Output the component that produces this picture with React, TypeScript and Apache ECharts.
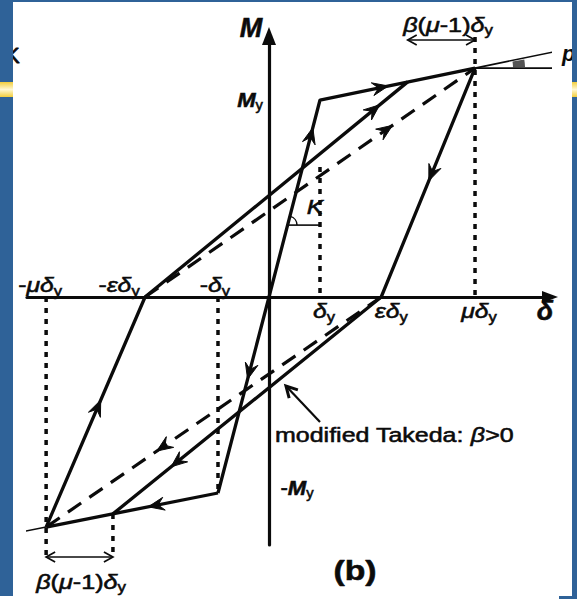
import React, { useEffect, useRef } from 'react';
import * as echarts from 'echarts';

const FONT = '"Liberation Sans", Arial, Helvetica, sans-serif';
const INK = '#0b0b0b';
const FRAME_BLUE = '#2f6298';

// δ is measured in units of δy, M in units of My
const deltaMin = -4.745;
const deltaMax = 5.51;
const momentMin = -1.259;
const momentMax = 1.325;

// characteristic points of the Takeda loop [δ/δy, M/My]
const origin = [0, 0];
const yieldPos = [1.0, 1.0];
const peakPos = [4.04, 1.162];
const residualPos = [2.2, 0];
const targetPos = [2.72, 1.092];
const yieldNeg = [-1.0, -0.995];
const peakNeg = [-4.37, -1.168];
const residualNeg = [-2.43, 0];
const targetNeg = [-3.06, -1.101];

// continuation of the post-yield branches and the horizontal reference
const tailPos = [5.65, 1.248];
const levelPos = [5.667, 1.162];
const tailNeg = [-4.92, -1.196];

const kLevel = 0.365;
const kFoot = [0.373, kLevel];

const spanTop = 1.305;
const spanBottom = -1.32;
const guideTop = 1.32;
const guideBottom = -1.32;
const yieldGuideTop = 0.66;

const solidPaths = [
  [yieldNeg, origin, yieldPos, peakPos],
  [peakPos, residualPos, targetNeg],
  [yieldNeg, peakNeg],
  [peakNeg, residualNeg, targetPos],
];

// original Takeda reloading straight to the previous peak
const dashedPaths = [
  [residualPos, peakNeg],
  [residualNeg, peakPos],
];

const thinPaths = [
  [peakPos, tailPos],
  [peakPos, levelPos],
  [peakNeg, tailNeg],
  [kFoot, [yieldPos[0], kLevel]],
];

const guidePaths = [
  [[peakNeg[0], 0], [peakNeg[0], guideBottom]],
  [targetNeg, [targetNeg[0], guideBottom]],
  [[yieldNeg[0], 0], yieldNeg],
  [[yieldPos[0], yieldGuideTop], [yieldPos[0], 0]],
  [[peakPos[0], guideTop], [peakPos[0], 0]],
];

// direction markers: segment start, segment end, position along it
const flowArrows = [
  [origin, yieldPos, 0.82],
  [origin, yieldNeg, 0.38],
  [yieldPos, peakPos, 0.39],
  [peakPos, residualPos, 0.46],
  [residualPos, targetNeg, 0.76],
  [residualPos, peakNeg, 0.65],
  [yieldNeg, peakNeg, 0.36],
  [peakNeg, residualNeg, 0.52],
  [residualNeg, targetPos, 0.87],
  [residualNeg, peakPos, 0.73],
];

// dimension arrows (both heads) and the note pointer (one head)
const noteArrows = [
  [[targetPos[0], spanTop], [peakPos[0], spanTop], 2],
  [[peakNeg[0], spanBottom], [targetNeg[0], spanBottom], 2],
  [[1.0, -0.635], [0.333, -0.452], 1],
];

const RICH = {
  r: { fontFamily: FONT, fontSize: 21, lineHeight: 25 },
  g: { fontFamily: FONT, fontSize: 21, fontStyle: 'italic', lineHeight: 25 },
  s: { fontFamily: FONT, fontSize: 14, verticalAlign: 'bottom' },
  M: { fontFamily: FONT, fontSize: 21, fontStyle: 'italic', fontWeight: 'bold', lineHeight: 25 },
  A: { fontFamily: FONT, fontSize: 27, fontStyle: 'italic', fontWeight: 'bold', lineHeight: 30 },
  t: { fontFamily: FONT, fontSize: 21, lineHeight: 25 },
  tg: { fontFamily: FONT, fontSize: 21, fontStyle: 'italic', lineHeight: 25 },
  b: { fontFamily: FONT, fontSize: 27, fontWeight: 'bold', lineHeight: 30 },
};

const tickLabels = [
  { at: [peakNeg[0], 0], text: '{r|-}{g|μδ}{s|y}', dx: -6, dy: -12 },
  { at: [residualNeg[0], 0], text: '{r|-}{g|εδ}{s|y}', dx: -26, dy: -12 },
  { at: [yieldNeg[0], 0], text: '{r|-}{g|δ}{s|y}', dx: -3, dy: -12 },
  { at: [yieldPos[0], 0], text: '{g|δ}{s|y}', dx: 4, dy: 14 },
  { at: [residualPos[0], 0], text: '{g|εδ}{s|y}', dx: 10, dy: 14 },
  { at: [peakPos[0], 0], text: '{g|μδ}{s|y}', dx: 4, dy: 14 },
];

const otherLabels = [
  { at: [deltaMax, 0], text: '{A|δ}', dx: -5, dy: 14, sx: 1 },
  { at: [0, momentMax], text: '{A|M}', dx: -18, dy: -8, sx: 1 },
  { at: [0, yieldPos[1]], text: '{M|M}{s|y}', dx: -19, dy: 0, sx: 1.05 },
  { at: [0, yieldNeg[1]], text: '{r|-}{M|M}{s|y}', dx: 28, dy: -5, sx: 1.05 },
  { at: [yieldPos[0], kLevel], text: '{g|K}', dx: -5, dy: -18 },
  { at: [peakPos[0], spanTop], text: '{g|β}{r|(}{g|μ}{r|-1)}{g|δ}{s|y}', dx: -27, dy: -15, sx: 1.2 },
  { at: [peakNeg[0], spanBottom], text: '{g|β}{r|(}{g|μ}{r|-1)}{g|δ}{s|y}', dx: 35, dy: 25, sx: 1.2 },
  { at: origin, text: '{t|modified Takeda: }{tg|β}{t|>0}', dx: 6, dy: 138, sx: 1.19, align: 'left' },
  { at: origin, text: '{b|(b)}', dx: 86, dy: 273, sx: 1.25 },
];

const allLabels = [...tickLabels, ...otherLabels];

const lineSeries = (paths, width, dash) =>
  paths.map((p) => ({
    type: 'line',
    data: p,
    symbol: 'none',
    showSymbol: false,
    clip: false,
    silent: true,
    z: 3,
    lineStyle: { color: INK, width, type: dash || 'solid', cap: 'butt' },
  }));

function buildOption() {
  const axisCommon = {
    type: 'value',
    axisTick: { show: false },
    axisLabel: { show: false },
    splitLine: { show: false },
  };
  const stripe = () =>
    new echarts.graphic.LinearGradient(0, 0, 0, 1, [
      { offset: 0, color: '#f2cd3c' },
      { offset: 0.5, color: '#fff8d2' },
      { offset: 1, color: '#f2cd3c' },
    ]);
  return {
    animation: false,
    backgroundColor: '#ffffff',
    grid: { left: 27, right: 27, top: 36, bottom: 54 },
    xAxis: {
      ...axisCommon,
      min: deltaMin,
      max: deltaMax,
      axisLine: {
        onZero: true,
        symbol: ['none', 'triangle'],
        symbolSize: [12, 16],
        lineStyle: { color: INK, width: 3.2 },
      },
    },
    yAxis: {
      ...axisCommon,
      min: momentMin,
      max: momentMax,
      axisLine: {
        onZero: true,
        symbol: ['none', 'triangle'],
        symbolSize: [14, 18],
        lineStyle: { color: INK, width: 3.2 },
      },
    },
    graphic: [
      {
        type: 'text', x: 5, y: 55, z: 1,
        style: { text: 'K', font: `22px ${FONT}`, fill: INK, stroke: INK, lineWidth: 0.8, verticalAlign: 'middle' },
      },
      {
        type: 'text', x: 562, y: 53, z: 1,
        style: { text: 'p', font: `italic bold 22px ${FONT}`, fill: INK, verticalAlign: 'middle' },
      },
      { type: 'rect', z: 100, shape: { x: 0, y: 0, width: 577, height: 2 }, style: { fill: FRAME_BLUE } },
      { type: 'rect', z: 100, shape: { x: 0, y: 0, width: 13, height: 596 }, style: { fill: FRAME_BLUE } },
      { type: 'rect', z: 100, shape: { x: 572, y: 0, width: 5, height: 599 }, style: { fill: FRAME_BLUE } },
      { type: 'rect', z: 100, shape: { x: 559, y: 596, width: 18, height: 3 }, style: { fill: FRAME_BLUE } },
      { type: 'rect', z: 101, shape: { x: 0, y: 82, width: 13, height: 15 }, style: { fill: stripe() } },
      { type: 'rect', z: 101, shape: { x: 572, y: 82, width: 5, height: 15 }, style: { fill: stripe() } },
    ],
    series: [
      ...lineSeries(guidePaths, 3.5, [5, 6]),
      ...lineSeries(thinPaths, 1.6),
      ...lineSeries(dashedPaths, 3.2, [16, 10]),
      ...lineSeries(solidPaths, 3.3),
      {
        // flow direction heads
        type: 'custom',
        coordinateSystem: 'cartesian2d',
        clip: false,
        silent: true,
        z: 5,
        data: flowArrows.map(([a, b, t]) => [a[0], a[1], b[0], b[1], t]),
        renderItem: (params, api) => {
          const a = api.coord([api.value(0), api.value(1)]);
          const b = api.coord([api.value(2), api.value(3)]);
          const t = api.value(4);
          const dx = b[0] - a[0];
          const dy = b[1] - a[1];
          const len = Math.hypot(dx, dy) || 1;
          const ux = dx / len;
          const uy = dy / len;
          const nx = -uy;
          const ny = ux;
          const cx = a[0] + dx * t;
          const cy = a[1] + dy * t;
          const L = 8;
          const W = 6.5;
          const N = 2;
          return {
            type: 'polygon',
            shape: {
              points: [
                [cx + ux * L, cy + uy * L],
                [cx - ux * L + nx * W, cy - uy * L + ny * W],
                [cx - ux * N, cy - uy * N],
                [cx - ux * L - nx * W, cy - uy * L - ny * W],
              ],
            },
            style: { fill: INK, stroke: INK, lineWidth: 1 },
          };
        },
      },
      {
        // dimension arrows and note pointer
        type: 'custom',
        coordinateSystem: 'cartesian2d',
        clip: false,
        silent: true,
        z: 5,
        data: noteArrows.map(([a, b, heads]) => [a[0], a[1], b[0], b[1], heads]),
        renderItem: (params, api) => {
          const a = api.coord([api.value(0), api.value(1)]);
          const b = api.coord([api.value(2), api.value(3)]);
          const heads = api.value(4);
          const dx = b[0] - a[0];
          const dy = b[1] - a[1];
          const len = Math.hypot(dx, dy) || 1;
          const ux = dx / len;
          const uy = dy / len;
          const nx = -uy;
          const ny = ux;
          const pointer = heads === 1;
          const L = pointer ? 11 : 9;
          const W = pointer ? 6 : 5;
          const lw = pointer ? 2.2 : 1.6;
          const head = (tip, sgn) => ({
            type: 'polyline',
            shape: {
              points: [
                [tip[0] - sgn * ux * L + nx * W, tip[1] - sgn * uy * L + ny * W],
                [tip[0], tip[1]],
                [tip[0] - sgn * ux * L - nx * W, tip[1] - sgn * uy * L - ny * W],
              ],
            },
            style: { stroke: INK, lineWidth: pointer ? 3 : 1.7, fill: null },
          });
          const children = [
            {
              type: 'line',
              shape: { x1: a[0], y1: a[1], x2: b[0], y2: b[1] },
              style: { stroke: INK, lineWidth: lw },
            },
            head(b, 1),
          ];
          if (heads === 2) children.push(head(a, -1));
          return { type: 'group', children };
        },
      },
      {
        // angle marks for K and for the post-yield stiffness
        type: 'custom',
        coordinateSystem: 'cartesian2d',
        clip: false,
        silent: true,
        z: 4,
        data: [[0, 0]],
        renderItem: (params, api) => {
          const o = api.coord(origin);
          const y = api.coord(yieldPos);
          const k = api.coord(kFoot);
          const p = api.coord(peakPos);
          const tp = api.coord(tailPos);
          const elasticAngle = Math.atan2(y[1] - o[1], y[0] - o[0]);
          const tailAngle = Math.atan2(tp[1] - p[1], tp[0] - p[0]);
          return {
            type: 'group',
            children: [
              {
                type: 'arc',
                shape: { cx: k[0], cy: k[1], r: 9, startAngle: elasticAngle, endAngle: 0, clockwise: true },
                style: { stroke: INK, lineWidth: 1.5, fill: null },
              },
              {
                type: 'sector',
                shape: { cx: p[0], cy: p[1], r0: 38, r: 50, startAngle: tailAngle * 0.85, endAngle: -0.02, clockwise: true },
                style: { fill: INK, opacity: 0.7 },
              },
            ],
          };
        },
      },
      {
        // axis annotations
        type: 'custom',
        coordinateSystem: 'cartesian2d',
        clip: false,
        silent: true,
        z: 6,
        data: allLabels.map((l) => l.at),
        renderItem: (params, api) => {
          const l = allLabels[params.dataIndex];
          const pt = api.coord([api.value(0), api.value(1)]);
          return {
            type: 'text',
            x: pt[0] + l.dx,
            y: pt[1] + l.dy,
            scaleX: l.sx ?? 1.18,
            style: {
              text: l.text,
              rich: RICH,
              fill: INK,
              stroke: INK,
              lineWidth: 0.55,
              font: `21px ${FONT}`,
              align: l.align ?? 'center',
              verticalAlign: 'middle',
            },
          };
        },
      },
    ],
  };
}

export default function App() {
  const ref = useRef<HTMLDivElement>(null);
  useEffect(() => {
    if (!ref.current) return undefined;
    const chart = echarts.init(ref.current, null, { renderer: 'svg' });
    chart.setOption(buildOption() as any);
    return () => chart.dispose();
  }, []);
  return (
    <div
      ref={ref}
      style={{ position: 'fixed', left: 0, top: 0, width: 577, height: 599, background: '#fff' }}
    />
  );
}
